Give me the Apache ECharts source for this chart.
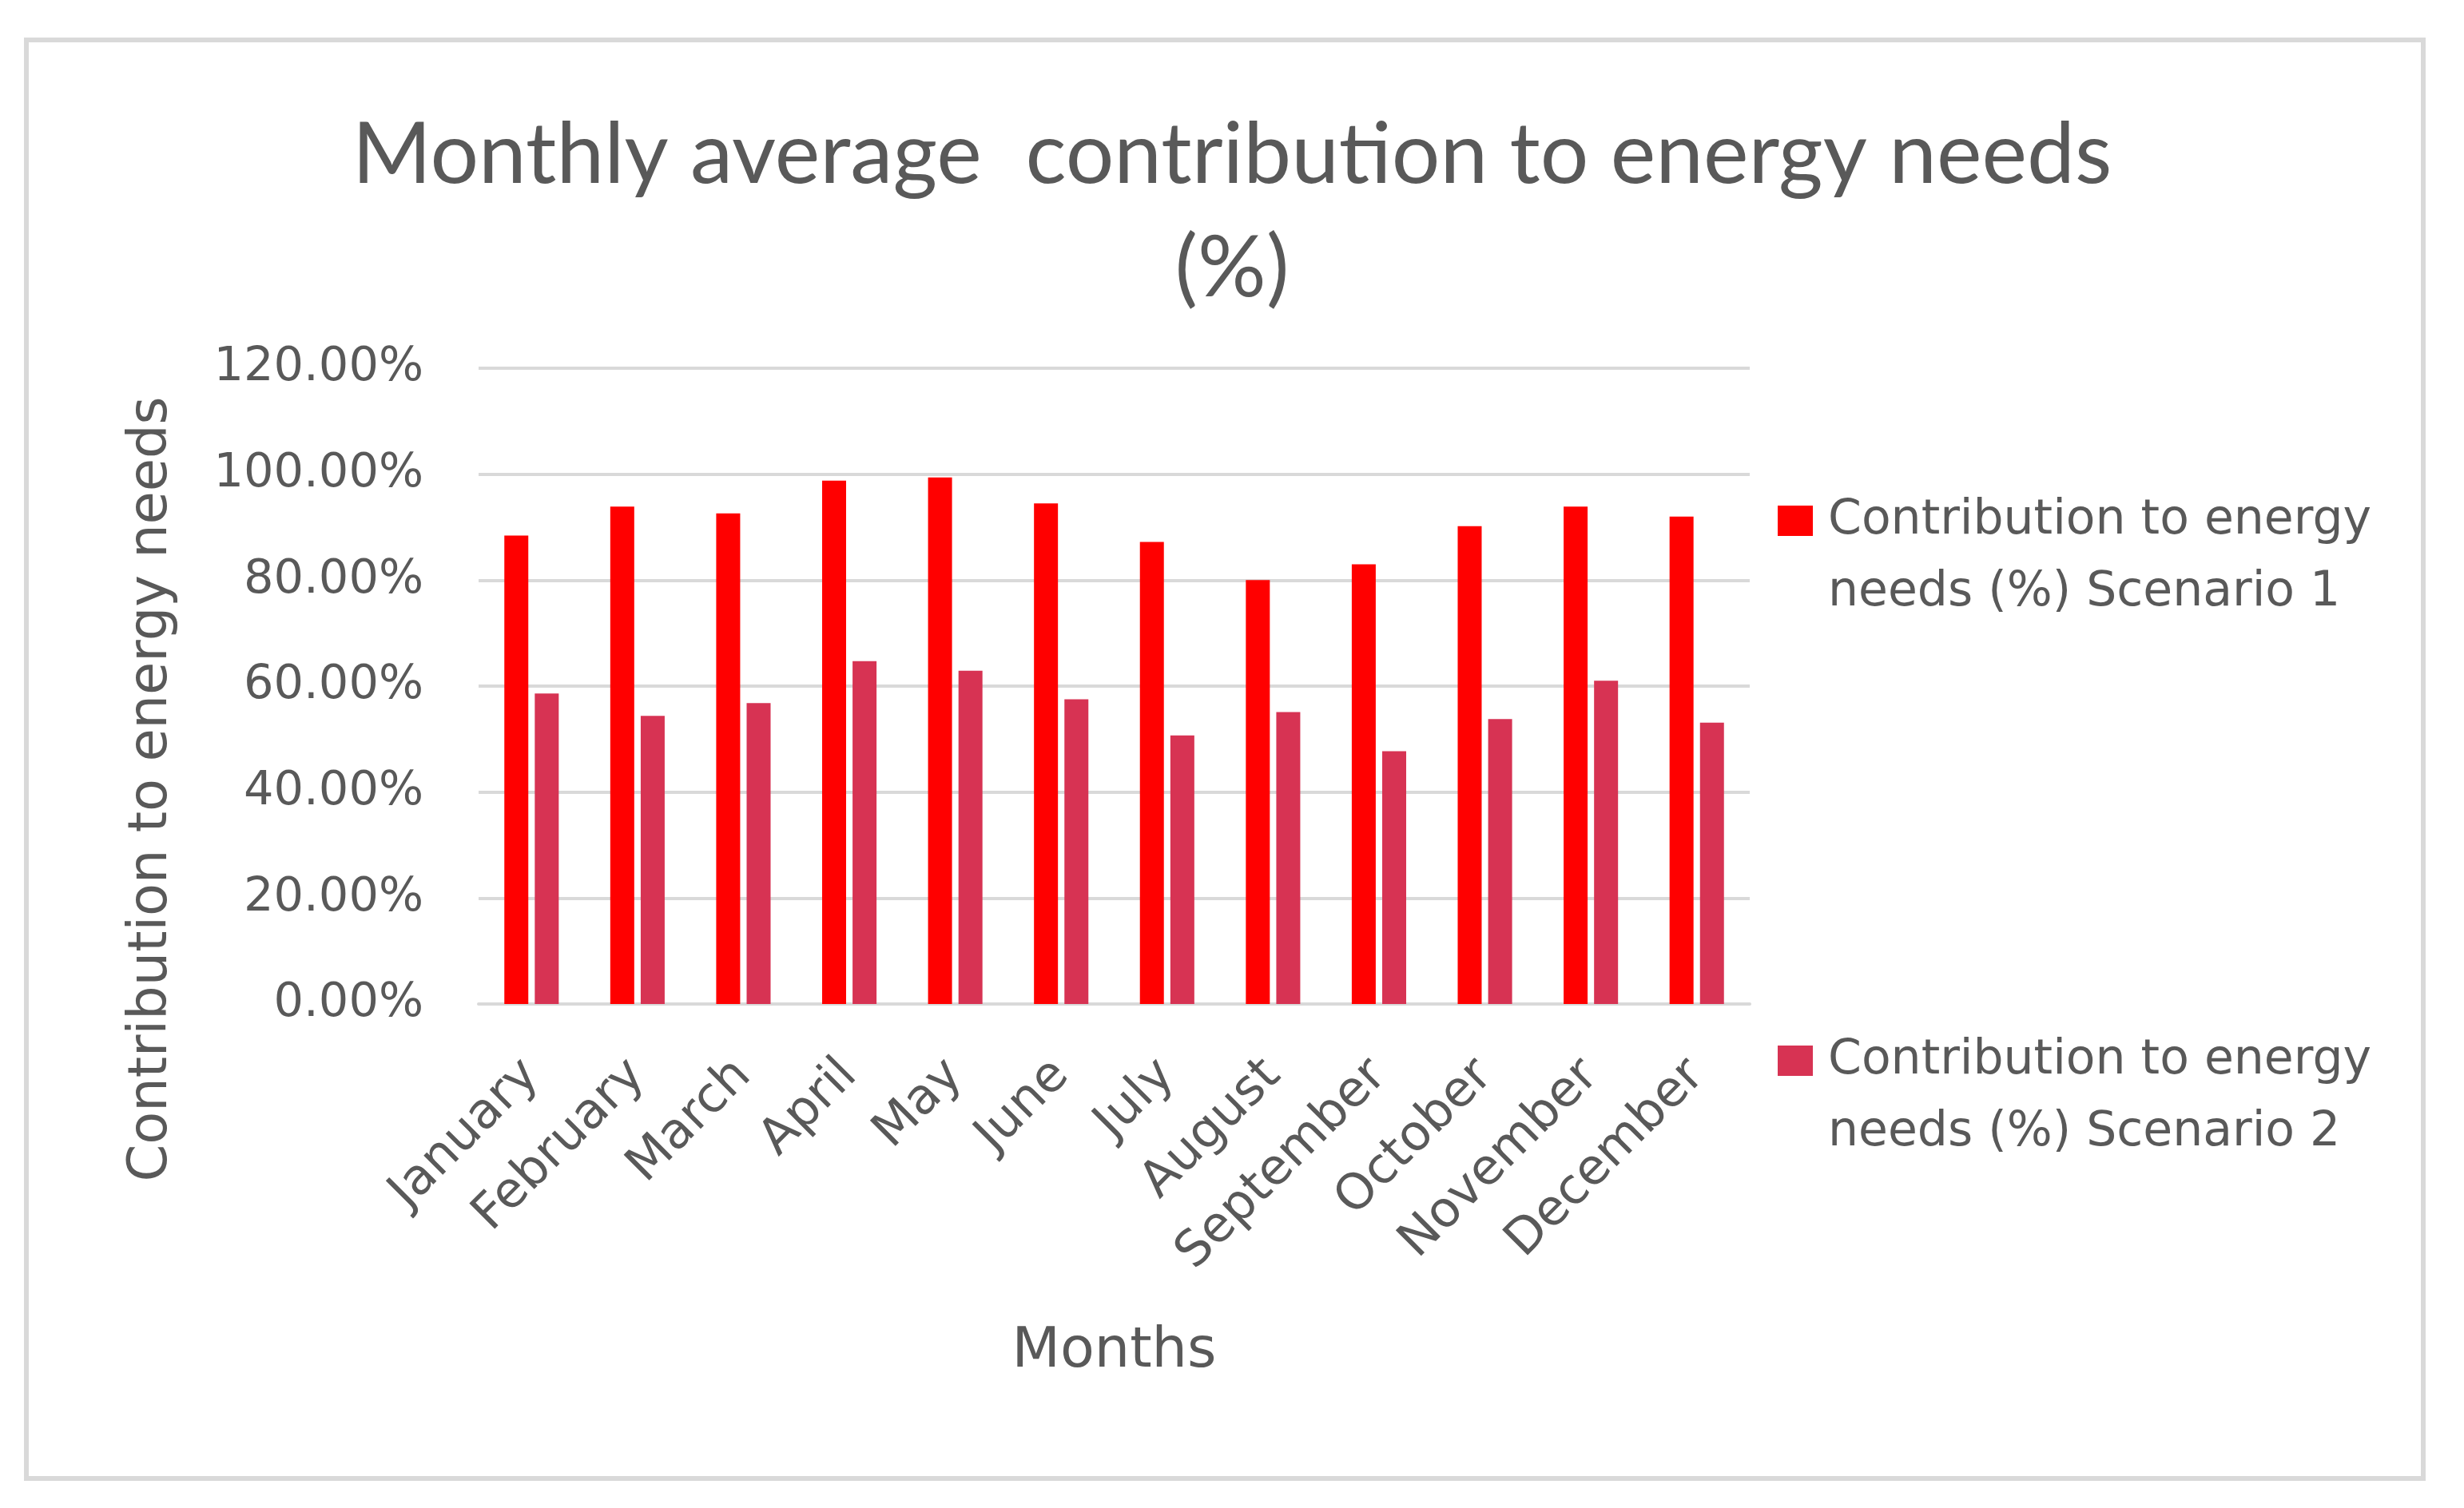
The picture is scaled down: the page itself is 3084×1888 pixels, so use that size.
<!DOCTYPE html>
<html>
<head>
<meta charset="utf-8">
<script src="https://cdn.jsdelivr.net/npm/echarts@6/dist/echarts.min.js"></script>
<style>
html,body{margin:0;padding:0;background:#fff;}
#chart{width:3084px;height:1888px;}
</style>
</head>
<body>
<div id="chart"></div>
<script>
const months = ['January','February','March','April','May','June','July','August','September','October','November','December'];
const scenario1 = [88.4, 93.9, 92.6, 98.8, 99.4, 94.5, 87.2, 80.0, 83.0, 90.2, 93.9, 92.0];
const scenario2 = [58.6, 54.4, 56.8, 64.7, 62.9, 57.5, 50.7, 55.1, 47.7, 53.8, 61.0, 53.1];
const seriesNames = ['Contribution to energy needs (%) Scenario 1', 'Contribution to energy needs (%) Scenario 2'];
const yTicks = {min: 0, max: 120, interval: 20};

const chart = echarts.init(document.getElementById('chart'), null, {renderer: 'canvas'});
const textColor = '#595959';
chart.setOption({
  backgroundColor: '#ffffff',
  animation: false,
  graphic: [{
    type: 'rect',
    shape: {x: 33, y: 50, width: 3000, height: 1801},
    style: {fill: 'none', stroke: '#d9d9d9', lineWidth: 6},
    silent: true
  }],
  title: {
    text: 'Monthly average  contribution to energy needs\n(%)',
    left: 'center',
    top: 118,
    textStyle: {fontFamily: 'Lato', fontWeight: 'normal', fontSize: 107, lineHeight: 142, color: textColor}
  },
  legend: {
    orient: 'vertical',
    left: 2220,
    top: 512,
    itemWidth: 44,
    itemHeight: 38,
    itemGap: 406,
    icon: 'rect',
    formatter: function (name) {
      return '\n' + name.replace('energy ', 'energy\n');
    },
    textStyle: {fontFamily: 'DejaVu Sans', fontSize: 60, lineHeight: 90, color: textColor, padding: [0, 0, 0, 14]},
    data: seriesNames
  },
  grid: {left: 599, right: 894, top: 461, bottom: 631, containLabel: false},
  xAxis: {
    type: 'category',
    data: months,
    axisLine: {show: true, lineStyle: {color: '#d9d9d9', width: 4}},
    axisTick: {show: false},
    axisLabel: {rotate: 45, margin: 80, interval: 0, fontFamily: 'DejaVu Sans', fontSize: 62, color: textColor},
    name: 'Months',
    nameLocation: 'middle',
    nameGap: 401,
    nameTextStyle: {fontFamily: 'DejaVu Sans', fontSize: 70, color: textColor}
  },
  yAxis: {
    type: 'value',
    min: yTicks.min,
    max: yTicks.max,
    interval: yTicks.interval,
    axisLine: {show: false},
    axisTick: {show: false},
    splitLine: {show: true, lineStyle: {color: '#d9d9d9', width: 4}},
    axisLabel: {margin: 69, fontFamily: 'DejaVu Sans', fontSize: 59, color: textColor,
      formatter: function (v) { return v.toFixed(2) + '%'; }},
    name: 'Contribution to energy needs',
    nameLocation: 'middle',
    nameGap: 375,
    nameTextStyle: {fontFamily: 'DejaVu Sans', fontSize: 67, color: textColor, padding: [0, 258, 0, 0]}
  },
  series: [
    {name: seriesNames[0], type: 'bar', data: scenario1, barWidth: 30, barGap: '27%', itemStyle: {color: '#FF0000'}},
    {name: seriesNames[1], type: 'bar', data: scenario2, barWidth: 30, barGap: '27%', itemStyle: {color: '#D73353'}}
  ]
});
</script>
</body>
</html>
